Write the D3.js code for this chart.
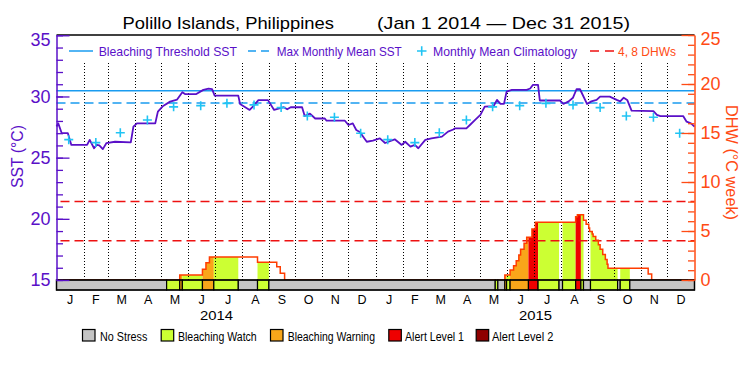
<!DOCTYPE html>
<html><head><meta charset="utf-8">
<script src="https://cdn.jsdelivr.net/npm/d3@7"></script>
<style>body{margin:0;background:#fff} svg{display:block} text{font-family:"Liberation Sans",Arial,sans-serif}</style>
</head><body><svg id="c" width="750" height="375"></svg>
<script>
// ---------- data ----------
const sstDates=["2014-01-01","2014-01-03","2014-01-07","2014-01-14","2014-01-18","2014-02-05","2014-02-08","2014-02-13","2014-02-16","2014-02-19","2014-02-23","2014-02-27","2014-03-09","2014-03-27","2014-03-30","2014-04-03","2014-04-24","2014-04-27","2014-05-03","2014-05-11","2014-05-19","2014-05-25","2014-05-28","2014-06-10","2014-06-18","2014-06-24","2014-06-28","2014-07-01","2014-07-28","2014-07-30","2014-08-10","2014-08-14","2014-08-20","2014-08-31","2014-09-07","2014-09-14","2014-09-18","2014-09-22","2014-09-26","2014-10-09","2014-10-12","2014-10-18","2014-10-24","2014-11-04","2014-11-06","2014-11-27","2014-12-01","2014-12-06","2014-12-10","2014-12-14","2014-12-22","2014-12-29",
"2015-01-06","2015-01-12","2015-01-23","2015-01-31","2015-02-04","2015-02-10","2015-02-15","2015-02-19","2015-02-27","2015-03-06","2015-03-18","2015-03-25","2015-03-31","2015-04-02","2015-04-15","2015-04-19","2015-04-25","2015-05-01","2015-05-06","2015-05-16","2015-05-20","2015-05-24","2015-05-28","2015-05-31","2015-06-06","2015-06-23","2015-06-27","2015-06-30","2015-07-06","2015-07-08","2015-07-31","2015-08-04","2015-08-10","2015-08-15","2015-08-19","2015-08-23","2015-08-31","2015-09-05","2015-09-11","2015-09-15","2015-09-26","2015-10-04","2015-10-08","2015-10-12","2015-10-16","2015-10-21","2015-11-15","2015-11-19","2015-11-23","2015-12-19","2015-12-23","2015-12-28","2016-01-01"];
const sstValues=[27.55,27.8,27.0,27.0,26.04,26.04,26.45,25.77,26.04,26.0,25.7,26.18,26.3,26.25,27.54,27.8,27.8,28.76,29.23,29.58,29.75,30.35,30.2,30.2,30.54,30.64,30.6,30.07,30.07,29.39,28.9,29.2,29.7,29.7,28.9,29.05,29.12,28.95,29.12,29.12,28.4,28.6,28.2,28.2,28.02,28.02,27.67,27.8,27.26,27.1,26.3,26.4,
26.58,26.2,26.5,26.04,26.3,25.9,26.04,25.77,26.45,26.58,26.72,27.13,27.3,27.4,27.4,27.67,28.08,28.49,29.17,29.2,29.72,29.4,29.4,30.4,30.54,30.54,30.65,30.94,30.94,29.67,29.67,29.39,29.6,29.9,30.59,30.59,29.39,29.6,29.72,29.99,29.99,29.72,29.6,29.9,29.72,28.85,28.8,28.49,28.4,28.4,27.94,27.8,27.54];
const climYears=[2014,2015];
const climValues=[26.47,26.23,27.04,28.08,29.15,29.25,29.44,29.31,29.09,28.41,28.3,26.99];
const mmm=29.47, bleachThreshold=30.47;
const dhwLevels=[4,8];
const dhwDates=["2014-05-22","2014-06-17","2014-06-21","2014-06-25","2014-08-19","2014-09-10","2014-09-14","2014-09-19",
"2015-05-29","2015-06-04","2015-06-08","2015-06-11","2015-06-14","2015-06-16","2015-06-20","2015-06-23","2015-06-29","2015-07-03","2015-08-18","2015-08-20","2015-08-27","2015-08-30","2015-09-02","2015-09-03","2015-09-06","2015-09-07","2015-09-10","2015-09-13","2015-09-15","2015-09-18","2015-09-21","2015-09-23","2015-09-24","2015-11-09","2015-11-13"];
const dhwValues=[0.5,1.1,1.75,2.35,1.8,1.36,0.68,0,
0.5,1.02,1.46,1.97,2.55,3.13,3.74,4.36,5.2,5.89,6.46,6.67,6.1,5.7,5.3,4.95,4.7,4.45,4.05,3.6,3.15,2.6,2.1,1.6,1.2,0.6,0];
const stressDates=["2014-01-01","2014-05-07","2014-05-22","2014-05-25","2014-06-17","2014-06-30","2014-07-28","2014-08-19","2014-09-01","2015-05-18","2015-05-21","2015-05-29","2015-05-31","2015-06-04","2015-06-25","2015-07-06","2015-07-30","2015-08-03","2015-08-18","2015-08-24","2015-08-27","2015-09-04","2015-10-05","2015-10-08","2015-10-19"];
const stressLevels=[0,1,2,1,2,1,0,1,0,1,0,2,1,2,3,1,0,1,3,1,0,1,0,1,0];
const monthLabels=["J","F","M","A","M","J","J","A","S","O","N","D"];
const yearLabels=["2014","2015"];
const sstMajorTicks=[15,20,25,30,35];
const dhwMajorTicks=[0,5,10,15,20,25];
const stressNames=["No Stress","Bleaching Watch","Bleaching Warning","Alert Level 1","Alert Level 2"];
const stressColors=["#c4c4c4","#ccff33","#f9a61a","#ee0000","#8e0000"];
const titleParts=["Polillo Islands, Philippines","(Jan 1 2014 \u2014 Dec 31 2015)"];

// ---------- styles ----------
const PURPLE="#5a10c8", BLUE="#1a9cf0", CYAN="#20c4f4", ORANGE="#ff4b14", DHWLINE="#ff3c00", RED="#ee1111";

const parse=d3.utcParse("%Y-%m-%d");
const start=parse("2014-01-01"), end=parse("2016-01-01");
const L=56.5, R=694.5, T=35, B0=280, B1=290;
const x=d3.scaleUtc().domain([start,end]).range([L,R]);
const yS=d3.scaleLinear().domain([15,35]).range([B0,35.3]);
const yD=d3.scaleLinear().domain([0,25]).range([B0,T]);
const svg=d3.select("#c");

// DHW filled areas coloured by stress level
const dhw=dhwDates.map((d,i)=>({date:parse(d),v:dhwValues[i]}));
function dhwAt(t){let v=0;for(const p of dhw){if(p.date<=t)v=p.v;else break;}return v;}
const segs=stressDates.map((d,i)=>({s:parse(d),e:i<stressDates.length-1?parse(stressDates[i+1]):end,lvl:stressLevels[i]}));
const area=d3.area().curve(d3.curveStepAfter).x(d=>x(d.date)).y0(yD(0)).y1(d=>yD(d.v));
segs.filter(s=>s.lvl>0).forEach(s=>{
  const pts=[{date:s.s,v:dhwAt(s.s)}];
  dhw.forEach(p=>{if(p.date>s.s&&p.date<s.e)pts.push(p);});
  pts.push({date:s.e,v:pts[pts.length-1].v});
  svg.append("path").attr("d",area(pts)).attr("fill",stressColors[s.lvl]);
});

// dotted month lines
svg.append("g").selectAll("line").data(d3.utcMonth.range(parse("2014-02-01"),end)).join("line")
  .attr("x1",d=>Math.round(x(d))+0.5).attr("x2",d=>Math.round(x(d))+0.5).attr("y1",63).attr("y2",B0)
  .attr("stroke","#000").attr("stroke-width",1).attr("stroke-dasharray","1,2");

// DHW reference lines
svg.append("g").selectAll("line").data(dhwLevels).join("line")
  .attr("x1",L+4).attr("x2",R).attr("y1",d=>yD(d)).attr("y2",d=>yD(d))
  .attr("stroke",RED).attr("stroke-width",1.5).attr("stroke-dasharray","9,5");

// threshold & MMM
svg.append("line").attr("x1",L).attr("x2",R).attr("y1",yS(bleachThreshold)).attr("y2",yS(bleachThreshold))
  .attr("stroke",BLUE).attr("stroke-width",1.5);
svg.append("line").attr("x1",L).attr("x2",R).attr("y1",yS(mmm)).attr("y2",yS(mmm))
  .attr("stroke",BLUE).attr("stroke-width",1.5).attr("stroke-dasharray","9,5");

// DHW outline
const dhwFull=[{date:start,v:0},...dhw,{date:end,v:0}];
svg.append("path").attr("d",d3.line().curve(d3.curveStepAfter).x(d=>x(d.date)).y(d=>yD(d.v))(dhwFull))
  .attr("fill","none").attr("stroke",DHWLINE).attr("stroke-width",1.5);

// stress band
svg.append("g").selectAll("rect").data(segs).join("rect")
  .attr("x",d=>x(d.s)).attr("width",d=>x(d.e)-x(d.s)).attr("y",B0).attr("height",B1-B0)
  .attr("fill",d=>stressColors[d.lvl]).attr("stroke","#000").attr("stroke-width",1.2);
svg.append("rect").attr("x",L).attr("y",B0).attr("width",R-L).attr("height",B1-B0)
  .attr("fill","none").attr("stroke","#000").attr("stroke-width",1.3);

// SST line
const sst=sstDates.map((d,i)=>({date:parse(d),v:sstValues[i]}));
svg.append("path").attr("d",d3.line().x(d=>x(d.date)).y(d=>yS(d.v))(sst))
  .attr("fill","none").attr("stroke",PURPLE).attr("stroke-width",1.8).attr("stroke-linejoin","round");

// climatology markers
const clim=[];climYears.forEach(yr=>climValues.forEach((v,m)=>clim.push({date:new Date(Date.UTC(yr,m,15)),v})));
svg.append("g").selectAll("path").data(clim).join("path")
  .attr("transform",d=>`translate(${x(d.date)},${yS(d.v)})`).attr("d","M-4.5,0H4.5M0,-4.5V4.5")
  .attr("stroke",CYAN).attr("stroke-width",1.6).attr("fill","none");

// frame top
svg.append("line").attr("x1",L).attr("x2",R).attr("y1",T).attr("y2",T).attr("stroke","#000").attr("stroke-width",1.3);

// axes
function styleAxis(g,color,fs){
  g.attr("font-family",null).attr("font-size",null);
  g.select(".domain").attr("stroke",color).attr("stroke-width",1.5);
  g.selectAll(".tick line").attr("stroke",color).attr("stroke-width",1.3);
  g.selectAll(".tick text").attr("fill",color).attr("font-size",fs)
    .attr("font-family","'Liberation Sans',Arial,sans-serif");
}
const gL=svg.append("g").attr("transform",`translate(${L},0)`)
  .call(d3.axisLeft(yS).tickValues(sstMajorTicks).tickSize(-13).tickSizeOuter(0).tickPadding(6));
styleAxis(gL,PURPLE,18);
gL.selectAll(".tick text").filter(d=>d===35).attr("dy","0.55em");
const gLm=svg.append("g").attr("transform",`translate(${L},0)`)
  .call(d3.axisLeft(yS).ticks(20).tickSize(-6.5).tickSizeOuter(0).tickFormat(""));
styleAxis(gLm,PURPLE,0);gLm.select(".domain").remove();

const gR=svg.append("g").attr("transform",`translate(${R},0)`)
  .call(d3.axisRight(yD).tickValues(dhwMajorTicks).tickSize(-13).tickSizeOuter(0).tickPadding(6));
styleAxis(gR,ORANGE,18);
gR.selectAll(".tick text").filter(d=>d===25).attr("dy","0.55em");
const gRm=svg.append("g").attr("transform",`translate(${R},0)`)
  .call(d3.axisRight(yD).ticks(25).tickSize(-6.5).tickSizeOuter(0).tickFormat(""));
styleAxis(gRm,ORANGE,0);gRm.select(".domain").remove();

// axis titles
svg.append("text").attr("transform","translate(17.5,156.5) rotate(-90)").attr("text-anchor","middle")
  .attr("dominant-baseline","central").attr("font-size",17).attr("fill",PURPLE)
  .attr("textLength",63).attr("lengthAdjust","spacingAndGlyphs").text("SST (\u00B0C)");
svg.append("text").attr("transform","translate(731.5,162.5) rotate(90)").attr("text-anchor","middle")
  .attr("dominant-baseline","central").attr("font-size",17).attr("fill",ORANGE)
  .attr("textLength",115).attr("lengthAdjust","spacingAndGlyphs").text("DHW (\u00B0C week)");

// month & year labels
const months=d3.utcMonth.range(start,end);
svg.append("g").selectAll("text").data(months).join("text")
  .attr("x",d=>x(new Date(+d+(d3.utcMonth.offset(d,1)-d)/2))).attr("y",303.5)
  .attr("text-anchor","middle").attr("font-size",12.5).attr("fill","#000")
  .text(d=>monthLabels[d.getUTCMonth()]);
svg.append("g").selectAll("text").data(yearLabels).join("text")
  .attr("x",d=>x(new Date(Date.UTC(+d,6,3)))-16.5).attr("y",319.5).attr("font-size",12.5).attr("fill","#000")
  .attr("textLength",33).attr("lengthAdjust","spacingAndGlyphs").text(d=>d);

// title
const tpos=[[122.6,211.4],[377,253]];
titleParts.forEach((t,i)=>svg.append("text").attr("x",tpos[i][0]).attr("y",29).attr("font-size",17)
  .attr("fill","#000").attr("textLength",tpos[i][1]).attr("lengthAdjust","spacingAndGlyphs").text(t));

// top legend
const lg=svg.append("g");
lg.append("line").attr("x1",69).attr("x2",93).attr("y1",51).attr("y2",51).attr("stroke",BLUE).attr("stroke-width",1.5);
lg.append("line").attr("x1",248).attr("x2",270).attr("y1",51).attr("y2",51).attr("stroke",BLUE).attr("stroke-width",1.5).attr("stroke-dasharray","8,5");
lg.append("path").attr("d","M417,51H426.5M421.7,46.3V55.7").attr("stroke",CYAN).attr("stroke-width",1.6);
lg.append("line").attr("x1",590).attr("x2",614).attr("y1",51).attr("y2",51).attr("stroke",RED).attr("stroke-width",1.5).attr("stroke-dasharray","9,6");
const topItems=[["Bleaching Threshold SST",98.7,138.3,PURPLE],["Max Monthly Mean SST",276.7,125,PURPLE],["Monthly Mean Climatology",433,144,PURPLE],["4, 8 DHWs",618,58,ORANGE]];
topItems.forEach(([t,xx,len,c])=>lg.append("text").attr("x",xx).attr("y",56).attr("font-size",13.5).attr("fill",c)
  .attr("textLength",len).attr("lengthAdjust","spacingAndGlyphs").text(t));

// bottom legend
const bx=[82,160.7,270,388.3,475.7], tx=[100,178,287.7,405,492], tl=[47.3,78.7,87.3,59,61.3];
const bl=svg.append("g");
stressNames.forEach((n,i)=>{
  bl.append("rect").attr("x",bx[i]+0.5).attr("y",329.5).attr("width",12.5).attr("height",11.5)
    .attr("fill",stressColors[i]).attr("stroke","#000").attr("stroke-width",1.2);
  bl.append("text").attr("x",tx[i]).attr("y",340.5).attr("font-size",12).attr("fill","#000")
    .attr("textLength",tl[i]).attr("lengthAdjust","spacingAndGlyphs").text(n);
});
</script></body></html>
